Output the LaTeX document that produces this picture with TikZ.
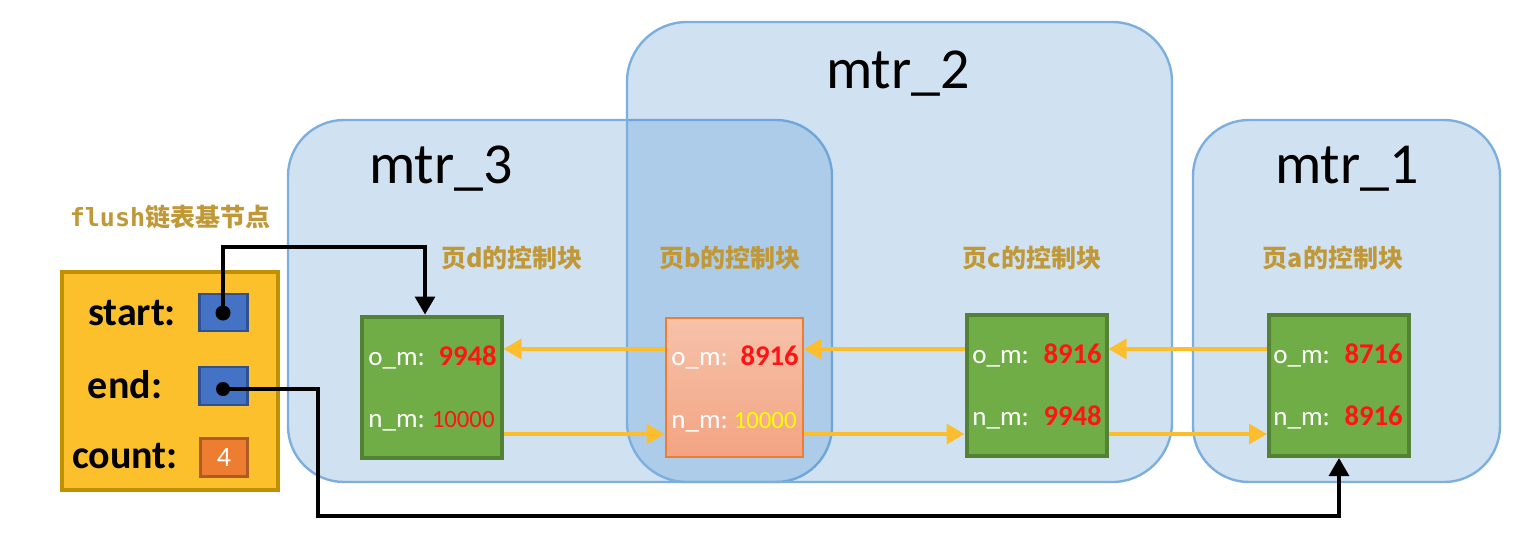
\documentclass[tikz,border=0pt]{standalone}
\usepackage{fontspec}
\setmainfont{Carlito}
\newfontfamily\cjk{Noto Sans CJK SC}
\newfontfamily\monof{DejaVu Sans Mono}
\usetikzlibrary{arrows.meta,calc}
\definecolor{mtrfill}{RGB}{68,140,205}
\definecolor{mtrline}{RGB}{125,175,222}
\definecolor{gold}{RGB}{192,152,56}
\definecolor{ybox}{RGB}{252,192,45}
\definecolor{yboxline}{RGB}{191,144,0}
\definecolor{bluebox}{RGB}{68,114,196}
\definecolor{blueline}{RGB}{47,82,143}
\definecolor{orangebox}{RGB}{237,125,49}
\definecolor{orangeline}{RGB}{174,90,33}
\definecolor{gfill}{RGB}{112,173,71}
\definecolor{gline}{RGB}{84,130,53}
\definecolor{ptop}{RGB}{246,194,170}
\definecolor{pbot}{RGB}{243,164,130}
\definecolor{pline}{RGB}{237,125,49}
\definecolor{yarrowc}{RGB}{252,190,45}
\definecolor{valred}{RGB}{255,20,20}
\definecolor{valyel}{RGB}{255,255,0}
\begin{document}
\begin{tikzpicture}[x=0.5pt,y=-0.5pt,
  mtr/.style={draw=mtrline, line width=1.2pt, fill=mtrfill, fill opacity=0.25, draw opacity=1, rounded corners=28pt, inner sep=0pt},
  mtrname/.style={font=\fontsize{29}{32}\selectfont, text=black, inner sep=0pt, anchor=base},
  ctl/.style={font=\cjk\bfseries\fontsize{12.5}{14}\selectfont, text=gold, inner sep=0pt},
  pagebox/.style={draw=gline, line width=2pt, fill=gfill, minimum width=70pt, minimum height=70.5pt, inner sep=0pt},
  pinkbox/.style={draw=pline, line width=1pt, top color=ptop, bottom color=pbot, minimum width=68.5pt, minimum height=69.5pt, inner sep=0pt},
  fld/.style={font=\fontsize{13.5}{15}\selectfont, text=white, inner sep=0pt, anchor=base west},
  val/.style={font=\bfseries\fontsize{14.3}{16}\selectfont, text=valred, inner sep=0pt, anchor=base east},
  valsm/.style={font=\fontsize{12.4}{14}\selectfont, text=valred, inner sep=0pt, anchor=base east},
  hdlabel/.style={font=\bfseries\fontsize{20}{22}\selectfont, text=black, inner sep=0pt, anchor=base},
  ptrbox/.style={draw=blueline, line width=1.2pt, fill=bluebox, minimum width=24pt, minimum height=18.5pt, inner sep=0pt},
  cntbox/.style={draw=orangeline, line width=1.2pt, fill=orangebox, minimum width=23.5pt, minimum height=19pt, inner sep=0pt, text=white, font=\fontsize{14}{16}\selectfont},
  dot/.style={circle, fill=black, minimum size=7.5pt, inner sep=0pt},
  yarrow/.style={draw=yarrowc, line width=1.8pt, -{Triangle[length=9pt,width=10pt]}},
  blk/.style={draw=black, line width=1.6pt, -{Triangle[length=9pt,width=10pt]}}
]
\useasboundingbox (0,0) rectangle (1516,552);

% memory ranges
\node[mtr, minimum width=272pt, minimum height=181pt] (mtr3) at (560,301) {};
\node[mtr, minimum width=272.5pt, minimum height=230pt, rounded corners=30pt] (mtr2) at (899.5,252) {};
\node[mtr, minimum width=153.5pt, minimum height=181pt] (mtr1) at (1346.5,301) {};
\node[mtrname] (n3) at (441,183) {mtr\_3};
\node[mtrname] (n2) at (898,88) {mtr\_2};
\node[mtrname] (n1) at (1347,183) {mtr\_1};

% flush list base node
\node[font=\bfseries\fontsize{12.5}{14}\selectfont, text=gold, inner sep=0pt] (flushlbl) at (170,217) {{\monof flush}{\cjk 链表基节点}};
\node[draw=yboxline, line width=1.8pt, fill=ybox, minimum width=108pt, minimum height=109pt, inner sep=0pt] (base) at (170,381) {};
\node[hdlabel] (lstart) at (132,325) {start:};
\node[hdlabel] (lend) at (125,398) {end:};
\node[hdlabel] (lcount) at (125,468) {count:};
\node[ptrbox] (pstart) at (223.5,312.5) {};
\node[ptrbox, minimum height=19pt] (pend) at (223.5,386) {};
\node[cntbox] (pcount) at (224,457.5) {4};

% control block labels
\node[ctl] (ld) at (512,258) {页d的控制块};
\node[ctl] (lb) at (730,258) {页b的控制块};
\node[ctl] (lc) at (1032,258) {页c的控制块};
\node[ctl] (la) at (1333,258) {页a的控制块};

% control blocks
\node[pagebox] (d) at (431.5,387) {};
\node[pinkbox] (b) at (734,387.5) {};
\node[pagebox] (c) at (1036.5,385.5) {};
\node[pagebox] (a) at (1339,385.5) {};

\node[fld] (dom) at (368,365) {o\_m:};
\node[val] (domv) at (497,365) {9948};
\node[fld] (dnm) at (368,427) {n\_m:};
\node[valsm] (dnmv) at (495,427) {10000};

\node[fld] (bom) at (671,365) {o\_m:};
\node[val] (bomv) at (799,365) {8916};
\node[fld] (bnm) at (671,428) {n\_m:};
\node[valsm, text=valyel] (bnmv) at (797,428) {10000};

\node[fld] (com) at (972,363) {o\_m:};
\node[val] (comv) at (1102,363) {8916};
\node[fld] (cnm) at (972,425) {n\_m:};
\node[val] (cnmv) at (1102,425) {9948};

\node[fld] (aom) at (1273,363) {o\_m:};
\node[val] (aomv) at (1403,363) {8716};
\node[fld] (anm) at (1273,425) {n\_m:};
\node[val] (anmv) at (1403,425) {8916};

% linked list arrows
\coordinate (yo) at (0,349);
\coordinate (yn) at (0,434);
\draw[yarrow] (a.west |- yo) -- (c.east |- yo);
\draw[yarrow] (c.west |- yo) -- (b.east |- yo);
\draw[yarrow] (b.west |- yo) -- (d.east |- yo);
\draw[yarrow] (d.east |- yn) -- (b.west |- yn);
\draw[yarrow] (b.east |- yn) -- (c.west |- yn);
\draw[yarrow] (c.east |- yn) -- (a.west |- yn);

% start / end pointers
\node[dot] (sdot) at (223,313) {};
\node[dot, minimum size=7pt] (edot) at (223,389) {};
\coordinate (sturn) at (425,247);
\coordinate (ebot) at (318,516);
\draw[blk] (sdot.center) |- (sturn) -- (sturn |- d.north);
\draw[blk] (edot.center) -| (ebot) -| (a.south);
\end{tikzpicture}
\end{document}
